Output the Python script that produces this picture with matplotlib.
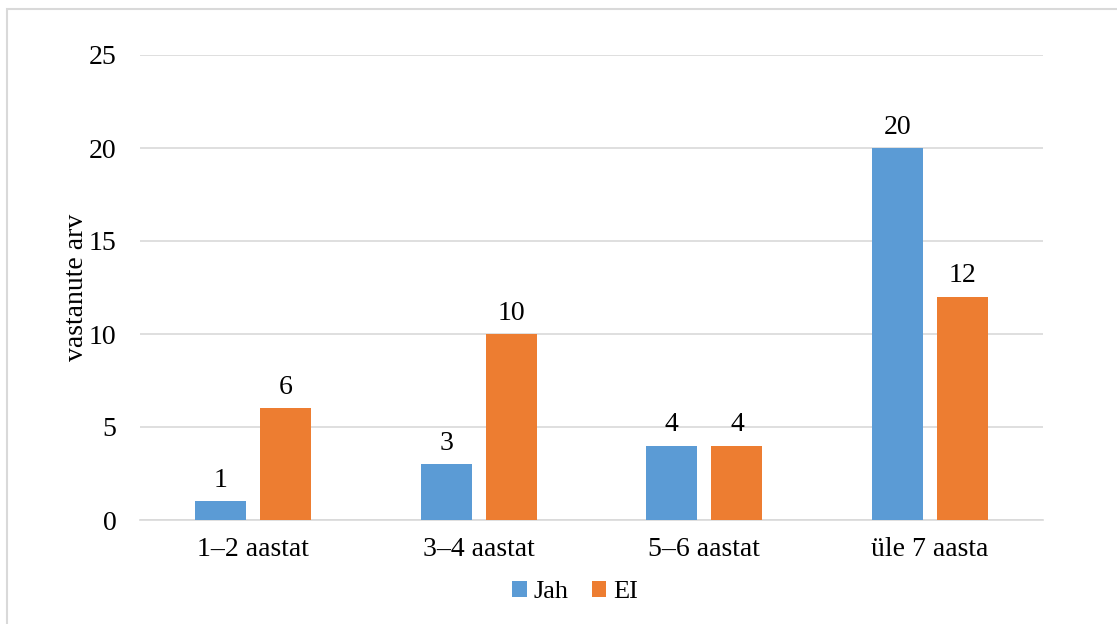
import matplotlib.pyplot as plt
import numpy as np
from matplotlib.patches import Rectangle

kategooriad = ["1–2 aastat", "3–4 aastat", "5–6 aastat", "üle 7 aasta"]
jah = [1, 3, 4, 20]
ei = [6, 10, 4, 12]

plt.rcParams['font.family'] = ['Liberation Serif', 'DejaVu Serif']

fig = plt.figure(figsize=(11.17, 6.24), dpi=100)
ax = fig.add_axes([140/1117, 1-520/624, 903/1117, 465/624])

x = np.arange(len(kategooriad))
w = 0.226
off = 0.144
b1 = ax.bar(x - off, jah, w, color="#5B9BD5", label="Jah", zorder=3)
b2 = ax.bar(x + off, ei, w, color="#ED7D31", label="EI", zorder=3)

for bars in (b1, b2):
    for r in bars:
        ax.text(r.get_x() + r.get_width()/2, r.get_height() + 0.45, str(int(r.get_height())),
                ha="center", va="bottom", fontsize=20)

ax.set_xlim(-0.5, len(kategooriad) - 0.5)
ax.set_ylim(0, 25)
ax.set_yticks(range(0, 26, 5))
ax.yaxis.grid(True, color="#d9d9d9", linewidth=1.2, zorder=0)
ax.set_xticks(x)
ax.set_xticklabels(kategooriad, fontsize=20)
ax.tick_params(axis="y", labelsize=20, length=0, pad=17)
ax.tick_params(axis="x", length=0, pad=12)
for s in ["top", "right", "left"]:
    ax.spines[s].set_visible(False)
ax.spines["bottom"].set_color("#d9d9d9")
ax.spines["bottom"].set_linewidth(1.2)
ax.set_ylabel("vastanute arv", fontsize=20, labelpad=0)

fig.legend(loc="center", bbox_to_anchor=(575/1117, 1-592/624), ncol=2, frameon=False,
           fontsize=19, handlelength=0.55, handleheight=0.55, handletextpad=0.25, columnspacing=0.9)

fig.patches.append(Rectangle((7/1117, -0.01), 1.02, 1-9/624 + 0.01, transform=fig.transFigure,
                             fill=False, edgecolor="#d9d9d9", linewidth=1.5))

fig.savefig("out.png", dpi=100)
